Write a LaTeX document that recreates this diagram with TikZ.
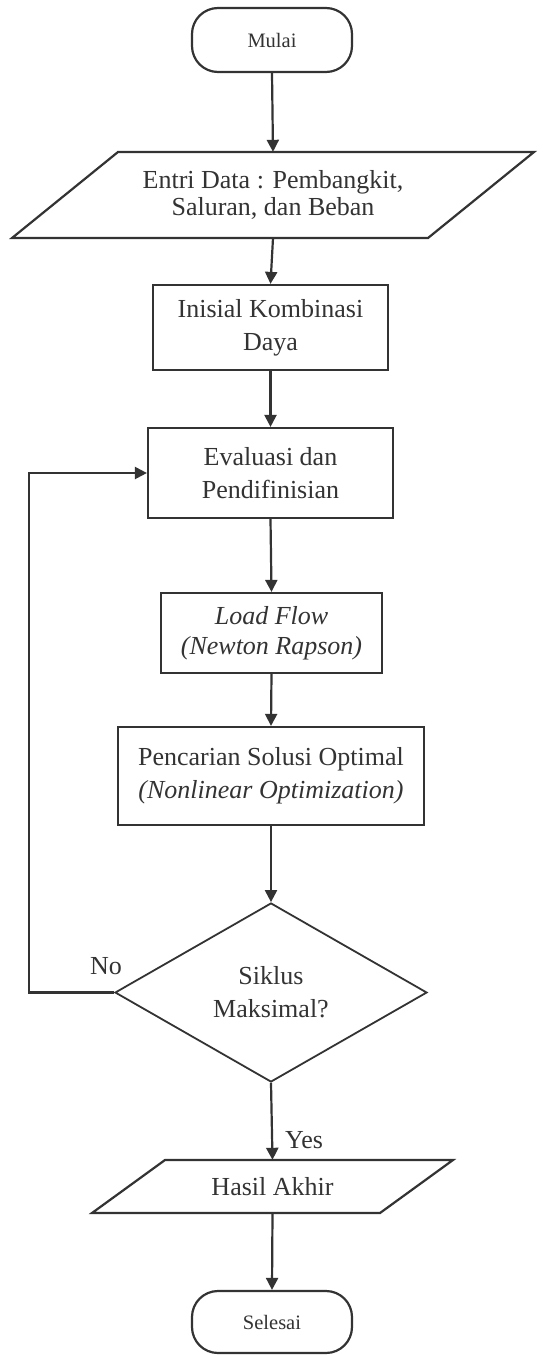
\documentclass[tikz,border=0pt]{standalone}
\usepackage{fontspec}
\setmainfont{Liberation Serif}
\usetikzlibrary{shapes.geometric,arrows.meta,calc}
\definecolor{ink}{HTML}{333333}
\begin{document}
\begin{tikzpicture}[x=1pt,y=-1pt,
  txt/.style={font=\fontsize{26}{33}\selectfont, text=ink, align=center, inner sep=0pt},
  smalltxt/.style={font=\fontsize{20.5}{24}\selectfont, text=ink, align=center, inner sep=0pt},
  proc/.style={txt, draw=ink, line width=2.2pt},
  term/.style={smalltxt, draw=ink, line width=2.2pt, rounded corners=26pt},
  decision/.style={txt, draw=ink, line width=1.8pt, diamond},
  outline/.style={draw=ink, line width=2.2pt, line join=miter},
  arr/.style={draw=ink, line width=2.2pt, -{Triangle[length=12pt,width=12pt]}}
]
\fill[white] (0,0) rectangle (547,1355);
\useasboundingbox (0,0) rectangle (547,1355);

\node[term, minimum width=160pt, minimum height=64pt] (start) at (272,40) {Mulai};

\node[txt, font=\fontsize{26}{27}\selectfont, minimum width=416pt, minimum height=86pt] (p1) at (273,195) {Entri Data : Pembangkit,\\Saluran, dan Beban};
\draw[outline] (118,152) -- (534,152) -- (428,238) -- (12,238) -- cycle;

\node[proc, minimum width=235pt, minimum height=85pt] (b2) at (270.5,327.5) {Inisial Kombinasi\\Daya};
\node[proc, minimum width=245pt, minimum height=90pt] (b3) at (270.5,473) {Evaluasi dan\\Pendifinisian};
\node[proc, minimum width=221pt, minimum height=80pt, font=\fontsize{26}{30}\itshape] (b4) at (271.5,633) {Load Flow\\(Newton Rapson)};
\node[proc, minimum width=306pt, minimum height=98pt] (b5) at (271,776) {Pencarian Solusi Optimal\\\textit{(Nonlinear Optimization)}};

\node[decision, minimum width=312pt, minimum height=179pt] (dec) at (271,992.5) {Siklus\\Maksimal?};

\node[txt, minimum width=288pt, minimum height=53pt] (p2) at (272.5,1186.5) {Hasil Akhir};
\draw[outline] (165,1160) -- (453,1160) -- (380,1213) -- (92,1213) -- cycle;

\node[term, minimum width=160pt, minimum height=62pt] (end) at (272,1322) {Selesai};

\draw[arr] (start.south) -- (p1.north);
\draw[arr] (p1.south) -- (b2.north);
\draw[arr] (b2.south) -- (b3.north);
\draw[arr] (b3.south) -- (b4.north);
\draw[arr] (b4.south) -- (b5.north);
\draw[arr] (b5.south) -- (dec.north);
\draw[arr] (dec.south) -- (p2.north);
\draw[arr] (p2.south) -- (end.north);
\draw[arr] (dec.west) -- ++(-85,0) |- (b3.west);

\node[txt] (no) at (106,966) {No};
\node[txt] (yes) at (304,1140) {Yes};
\end{tikzpicture}
\end{document}
